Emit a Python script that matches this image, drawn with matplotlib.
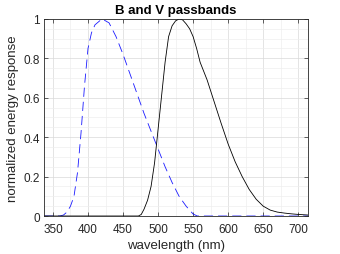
import matplotlib
matplotlib.use("Agg")
import matplotlib.pyplot as plt
from matplotlib.ticker import MultipleLocator

plt.rcParams['font.family'] = ['Liberation Sans', 'DejaVu Sans']

# B passband (dashed blue)
b_wave = [337, 360, 365, 370, 375, 380, 385, 390, 395, 400, 405, 410, 420, 430, 440,
          450, 460, 470, 480, 490, 500, 510, 520, 530, 540, 550, 556, 714]
b_resp = [0.0, 0.0, 0.005, 0.02, 0.05, 0.10, 0.22, 0.42, 0.66, 0.85, 0.93, 0.97, 1.0, 0.98, 0.91,
          0.82, 0.72, 0.62, 0.52, 0.43, 0.34, 0.25, 0.17, 0.10, 0.05, 0.01, 0.0, 0.0]

# V passband (solid black)
v_wave = [337, 472, 476, 480, 485, 490, 495, 500, 505, 510, 515, 520, 525, 530, 535,
          540, 545, 550, 555, 560, 570, 580, 590, 600, 610, 620, 630, 640, 650, 660,
          670, 680, 690, 700, 714]
v_resp = [0.0, 0.0, 0.008, 0.035, 0.08, 0.15, 0.27, 0.44, 0.61, 0.78, 0.91, 0.965, 0.99, 1.0, 0.995,
          0.975, 0.95, 0.91, 0.85, 0.78, 0.69, 0.58, 0.47, 0.365, 0.275, 0.20, 0.135, 0.085, 0.05, 0.03,
          0.02, 0.015, 0.011, 0.008, 0.005]

fig = plt.figure(figsize=(3.4, 2.55), dpi=100)
ax = fig.add_axes([0.129, 0.149, 0.777, 0.773])

ax.plot(b_wave, b_resp, color='#1a1aff', lw=0.6, ls=(0, (11, 6)))
ax.plot(v_wave, v_resp, color='black', lw=0.6)

ax.set_xlim(337, 714)
ax.set_ylim(0, 1)
ax.xaxis.set_major_locator(MultipleLocator(50))
ax.xaxis.set_minor_locator(MultipleLocator(25))
ax.yaxis.set_major_locator(MultipleLocator(0.2))
ax.yaxis.set_minor_locator(MultipleLocator(0.05))
ax.set_yticks([0, 0.2, 0.4, 0.6, 0.8, 1.0])
ax.set_yticklabels(['0', '0.2', '0.4', '0.6', '0.8', '1'])

ax.grid(True, which='major', color='#d9d9d9', lw=0.5)
ax.grid(True, which='minor', color='#eeeeee', lw=0.5)
ax.set_axisbelow(True)

for s in ax.spines.values():
    s.set_color('#262626')
    s.set_linewidth(0.6)
ax.tick_params(which='both', direction='in', top=True, right=True, colors='#262626',
               labelsize=8.5, width=0.5)
ax.tick_params(axis='x', pad=5)
ax.tick_params(axis='y', pad=3)
ax.tick_params(which='major', length=3)
ax.tick_params(which='minor', length=0)

ax.set_xlabel('wavelength (nm)', fontsize=9.5, color='#262626', labelpad=3)
ax.set_ylabel('normalized energy response', fontsize=9.5, color='#262626', labelpad=3)
ax.set_title('B and V passbands', fontsize=9.5, fontweight='bold', pad=4)

fig.savefig('out.png', dpi=100, facecolor='white')
